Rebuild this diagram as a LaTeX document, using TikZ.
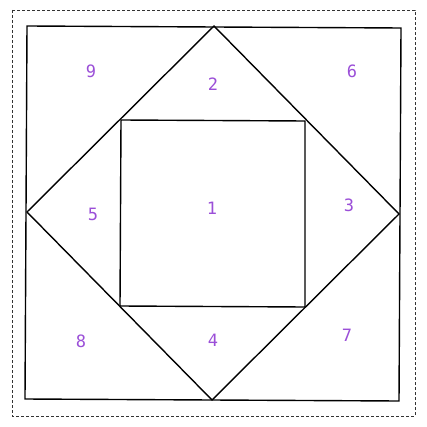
\documentclass[tikz,border=0pt]{standalone}
\usepackage{fontspec}
\newfontfamily\labfont{DejaVu Sans Mono}
\definecolor{labpurple}{HTML}{9B4FD8}
\begin{document}
\begin{tikzpicture}[x=1pt,y=-1pt,
  edge/.style={draw=black,line width=1.4pt,line join=miter},
  frame/.style={draw=black!80,dashed,line width=0.6pt,dash pattern=on 3pt off 2pt},
  lab/.style={text=labpurple,font=\labfont\fontsize{17}{17}\selectfont,inner sep=0pt}]
\useasboundingbox (0,0) rectangle (427,427);
\fill[white] (0,0) rectangle (427,427);
\draw[frame] (12,10) rectangle (415,416);
% outer square corners
\coordinate (o1) at (27,26);
\coordinate (o2) at (401,28);
\coordinate (o3) at (399,401);
\coordinate (o4) at (25,399);
% diamond
\coordinate (dT) at (214,26);
\coordinate (dR) at (399,214);
\coordinate (dB) at (212,400);
\coordinate (dL) at (27,212);
% inner square
\coordinate (i1) at (121,120);
\coordinate (i2) at (305,121);
\coordinate (i3) at (305,307);
\coordinate (i4) at (120,306);
\draw[edge] (o1) -- (o2) -- (o3) -- (o4) -- cycle;
\draw[edge] (dT) -- (dR) -- (dB) -- (dL) -- cycle;
\draw[edge] (i1) -- (i2) -- (i3) -- (i4) -- cycle;
\node[lab] (n9) at (91,71) {9};
\node[lab] (n2) at (213,84) {2};
\node[lab] (n6) at (352,71) {6};
\node[lab] (n5) at (93,214) {5};
\node[lab] (n1) at (212,208) {1};
\node[lab] (n3) at (349,205) {3};
\node[lab] (n8) at (81,341) {8};
\node[lab] (n4) at (213,340) {4};
\node[lab] (n7) at (347,335) {7};
\end{tikzpicture}
\end{document}
